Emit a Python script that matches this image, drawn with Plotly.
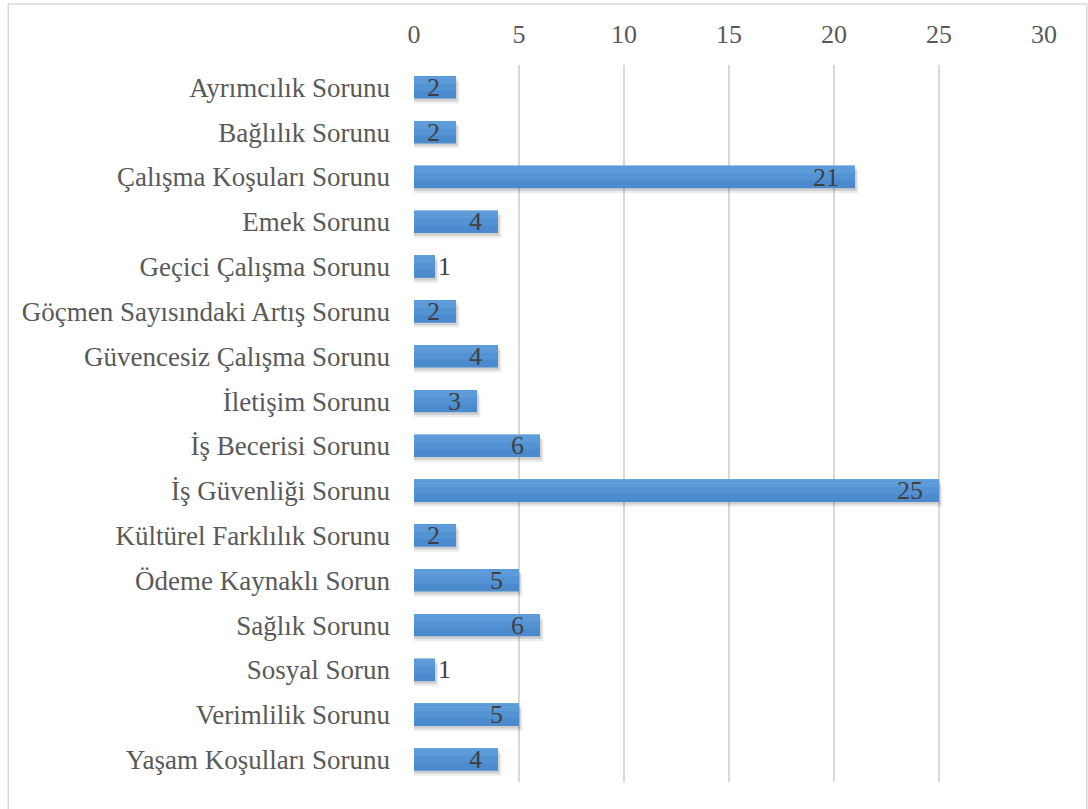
import plotly.graph_objects as go

categories = [
    "Ayrımcılık Sorunu",
    "Bağlılık Sorunu",
    "Çalışma Koşuları Sorunu",
    "Emek Sorunu",
    "Geçici Çalışma Sorunu",
    "Göçmen Sayısındaki Artış Sorunu",
    "Güvencesiz Çalışma Sorunu",
    "İletişim Sorunu",
    "İş Becerisi Sorunu",
    "İş Güvenliği Sorunu",
    "Kültürel Farklılık Sorunu",
    "Ödeme Kaynaklı Sorun",
    "Sağlık Sorunu",
    "Sosyal Sorun",
    "Verimlilik Sorunu",
    "Yaşam Koşulları Sorunu",
]
values = [2, 2, 21, 4, 1, 2, 4, 3, 6, 25, 2, 5, 6, 1, 5, 4]
tick_vals = [0, 5, 10, 15, 20, 25, 30]

font_family = "Liberation Serif"

fig = go.Figure()


def band(xs, offset, width, color):
    fig.add_trace(go.Bar(
        y=categories, x=xs, orientation="h",
        width=width, offset=offset,
        marker=dict(color=color, line=dict(width=0)),
        hoverinfo="skip", showlegend=False,
    ))


# soft shadow under each bar (two layers)
band([v + 0.16 for v in values], -0.14, 0.5, "rgba(0,0,0,0.07)")
band([v + 0.08 for v in values], -0.19, 0.5, "rgba(0,0,0,0.12)")

# bar body, stepped to fake the light-to-dark gradient
band(values, -0.25, 0.5, "#4b8bcd")
band(values, -0.25, 0.33, "#5392d3")
band(values, -0.25, 0.17, "#5d9bd9")

# labels on a transparent bar so they sit above everything
labels = [str(v) + "\u00a0\u00a0" if v > 1 else str(v) for v in values]
positions = ["inside" if v > 1 else "outside" for v in values]
fig.add_trace(go.Bar(
    y=categories,
    x=values,
    orientation="h",
    width=0.5,
    offset=-0.25,
    marker=dict(color="rgba(0,0,0,0)", line=dict(width=0)),
    text=labels,
    textposition=positions,
    textangle=0,
    insidetextanchor="end",
    constraintext="none",
    cliponaxis=False,
    textfont=dict(family=font_family, size=26, color="#404040"),
    showlegend=False,
))

fig.update_layout(
    width=1088,
    height=809,
    barmode="overlay",
    paper_bgcolor="white",
    plot_bgcolor="white",
    margin=dict(l=414, r=44, t=65, b=27),
    font=dict(family=font_family, size=26, color="#595959"),
    xaxis=dict(
        side="top",
        range=[0, 30],
        tickvals=tick_vals,
        showgrid=True,
        gridcolor="#d9d9d9",
        gridwidth=2,
        zeroline=False,
        showline=False,
        ticks="",
        ticklabelstandoff=16,
        tickfont=dict(size=26, color="#595959"),
    ),
    yaxis=dict(
        autorange="reversed",
        showgrid=False,
        zeroline=False,
        showline=False,
        ticks="",
        ticklabelstandoff=23,
        tickfont=dict(size=27, color="#595959"),
    ),
    shapes=[dict(
        type="rect", xref="paper", yref="paper",
        x0=-0.644, x1=1.068, y0=-0.1, y1=1.085,
        line=dict(color="#d9d9d9", width=1.5),
        fillcolor="rgba(0,0,0,0)", layer="below",
    )],
)

fig.write_html("out.html", config={"displayModeBar": False},
               post_script="document.body.style.margin='0';")
